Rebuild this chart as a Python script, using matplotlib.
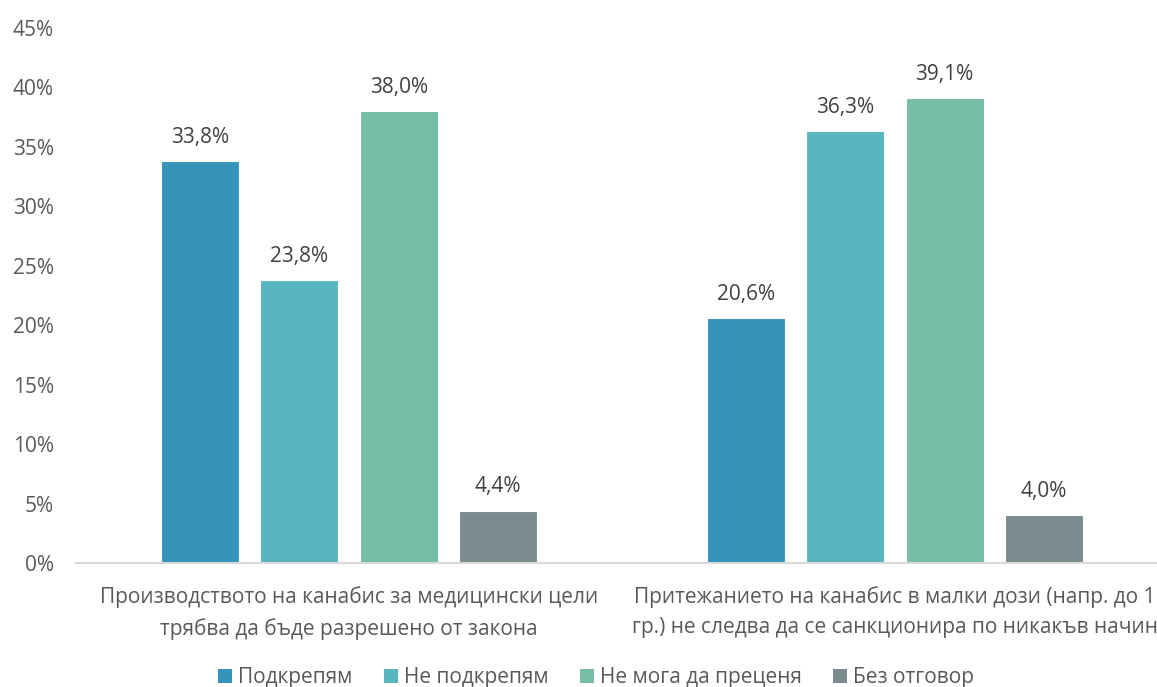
import numpy as np
import matplotlib.pyplot as plt
from matplotlib.patches import Patch

plt.rcParams['font.family'] = ['Open Sans', 'DejaVu Sans']

categories = [
    "Производството на канабис за медицински цели\nтрябва да бъде разрешено от закона",
    "Притежанието на канабис в малки дози (напр. до 1\nгр.) не следва да се санкционира по никакъв начин",
]
series_names = ["Подкрепям", "Не подкрепям", "Не мога да преценя", "Без отговор"]
values = [
    [33.8, 20.6],   # Подкрепям
    [23.8, 36.3],   # Не подкрепям
    [38.0, 39.1],   # Не мога да преценя
    [4.4, 4.0],     # Без отговор
]
colors = ["#3494BA", "#58B6C0", "#75BDA7", "#7A8C8E"]
yticks = [0, 5, 10, 15, 20, 25, 30, 35, 40, 45]

W, H = 1157, 687
fig = plt.figure(figsize=(W / 100, H / 100), dpi=100)
# plot area runs a little past the right edge, like the source chart
ax = fig.add_axes([76 / W, 1 - 563 / H, (1168 - 76) / W, (563 - 28) / H])

x = np.arange(len(categories))
bar_w = 0.143
step = 0.182
for i, (name, vals) in enumerate(zip(series_names, values)):
    pos = x + (i - 1.5) * step
    bars = ax.bar(pos, vals, bar_w, color=colors[i], edgecolor="white",
                  linewidth=0.8, label=name)
    for b, v in zip(bars, vals):
        ax.annotate(("%.1f" % v).replace(".", ",") + "%",
                    (b.get_x() + b.get_width() / 2, v),
                    xytext=(0, 9.5), textcoords="offset points",
                    ha="center", va="bottom", fontsize=15, color="#404040")

ax.set_xlim(-0.5, 1.5)
ax.set_ylim(0, 45)
ax.set_yticks(yticks)
ax.set_yticklabels(["%d%%" % t for t in yticks])
ax.set_xticks(x)
ax.set_xticklabels(categories, fontsize=15, color="#595959", linespacing=1.55)

ax.tick_params(axis="y", length=0, pad=16, labelsize=15, labelcolor="#595959")
ax.tick_params(axis="x", length=0, pad=17)
for s in ["top", "right", "left"]:
    ax.spines[s].set_visible(False)
ax.spines["bottom"].set_color("#D9D9D9")
ax.spines["bottom"].set_linewidth(1.5)

handles = [Patch(facecolor=c, edgecolor="none") for c in colors]
fig.legend(handles, series_names, loc="center",
           bbox_to_anchor=(596 / W, 1 - 678 / H), ncol=4, frameon=False,
           fontsize=15, labelcolor="#595959", handlelength=0.67,
           handleheight=0.67, handletextpad=0.3, columnspacing=1.5)

fig.savefig("out.png", dpi=100)
